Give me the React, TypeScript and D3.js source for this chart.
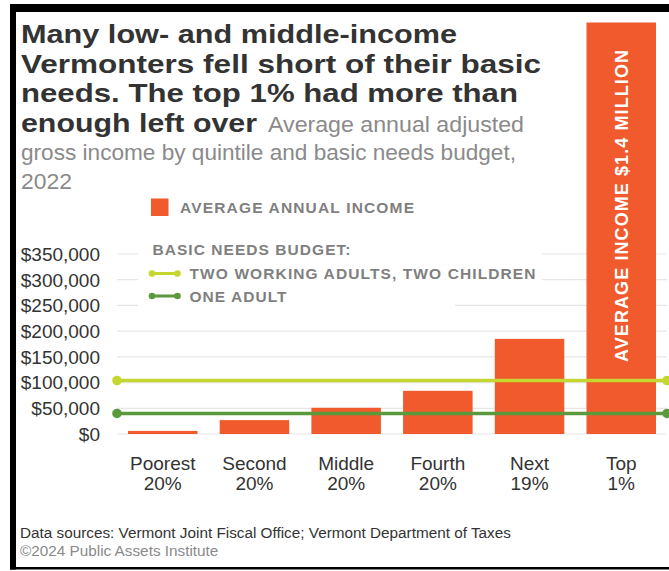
import React from "react";
import * as d3 from "d3";

// ---- data ----
const categoryTop = ["Poorest", "Second", "Middle", "Fourth", "Next", "Top"];
const categoryBottom = ["20%", "20%", "20%", "20%", "19%", "1%"];
const incomes = [6000, 27000, 51000, 84000, 185000, 1400000];
const budgetLabels = ["TWO WORKING ADULTS, TWO CHILDREN", "ONE ADULT"];
const budgetValues = [104000, 40000];
const budgetColors = ["#c5d631", "#5b9a3c"];
const yTicks = [0, 50000, 100000, 150000, 200000, 250000, 300000, 350000];

const titleLines = [
  "Many low- and middle-income",
  "Vermonters fell short of their basic",
  "needs. The top 1% had more than",
];
const titleLast = "enough left over";
const subtitleFirst = "Average annual adjusted";
const subtitleRest = ["gross income by quintile and basic needs budget,", "2022"];
const topBarNote = "AVERAGE INCOME $1.4 MILLION";
const sources = "Data sources: Vermont Joint Fiscal Office; Vermont Department of Taxes";
const copyright = "\u00A92024 Public Assets Institute";

const W = 669;
const H = 571;
const FONT = "'Liberation Sans', Arial, Helvetica, sans-serif";
const ORANGE = "#f05a2c";

export default function App() {
  const plotLeft = 117;
  const plotRight = 667;
  const plotTop = 22.5;
  const keys = categoryTop.map((c, i) => c + " " + categoryBottom[i]);

  const x = d3.scaleBand<string>().domain(keys).range([plotLeft, plotRight]).paddingInner(0.242).paddingOuter(0.12);
  const y = d3.scaleLinear().domain([0, 350000]).range([434, 254]);
  const fmt = d3.format("$,");
  const bw = x.bandwidth();
  const topKey = keys[keys.length - 1];

  return (
    <svg width={W} height={H} style={{ position: "absolute", left: 0, top: 0, background: "#fff" }} fontFamily={FONT}>
      <rect x={0} y={0} width={W} height={H} fill="#fff" />
      {/* frame */}
      <rect x={10} y={4} width={W - 10} height={8} fill="#000" />
      <rect x={10} y={4} width={6} height={565.5} fill="#000" />
      <rect x={10} y={567} width={W - 10} height={2.5} fill="#000" />

      {/* title */}
      {titleLines.map((t, i) => (
        <text key={i} x={21} y={43 + i * 29.5} fontSize={26} fontWeight="bold" fill="#333"
          textLength={[436, 520, 497][i]} lengthAdjust="spacingAndGlyphs">{t}</text>
      ))}
      <text x={21} y={131.5} fontSize={26} fontWeight="bold" fill="#333" textLength={236} lengthAdjust="spacingAndGlyphs">{titleLast}</text>
      <text x={268} y={131.5} fontSize={22} fill="#8a8a8a" textLength={256} lengthAdjust="spacingAndGlyphs">{subtitleFirst}</text>
      {subtitleRest.map((t, i) => (
        <text key={i} x={21} y={160 + i * 28.5} fontSize={22} fill="#8a8a8a"
          textLength={[495, 51][i]} lengthAdjust="spacingAndGlyphs">{t}</text>
      ))}

      {/* gridlines */}
      {yTicks.map((t) => (
        <line key={t} x1={plotLeft} x2={plotRight} y1={y(t)} y2={y(t)} stroke="#e6e6e6" strokeWidth={1.2} />
      ))}
      {yTicks.map((t) => (
        <text key={"l" + t} x={100} y={y(t)} dy="0.36em" textAnchor="end" fontSize={19} fill="#333">{fmt(t)}</text>
      ))}

      {/* bars */}
      {keys.map((k, i) => {
        const top = Math.max(plotTop, y(incomes[i]));
        return <rect key={k} x={x(k)} y={top} width={bw} height={y(0) - top} fill={ORANGE} />;
      })}
      <text
        transform={`translate(${(x(topKey) as number) + bw / 2},206) rotate(-90)`}
        textAnchor="middle" dy="0.36em" fontSize={18} fontWeight="bold" fill="#fff" textLength={312}
      >{topBarNote}</text>

      {/* legend background */}
      <rect x={138} y={240} width={404} height={49} fill="#fff" />
      <rect x={138} y={289} width={317} height={20} fill="#fff" />

      {/* legend */}
      <rect x={151} y={198.5} width={17.5} height={17.5} fill={ORANGE} />
      <text x={180} y={212.5} fontSize={15.5} fontWeight="bold" fill="#7f7f7f" textLength={234}>AVERAGE ANNUAL INCOME</text>
      <text x={152.5} y={254.5} fontSize={15.5} fontWeight="bold" fill="#7f7f7f" textLength={198}>BASIC NEEDS BUDGET:</text>
      {budgetLabels.map((l, i) => {
        const cy = 273.5 + i * 22.5;
        return (
          <g key={l}>
            <line x1={152} x2={177.5} y1={cy} y2={cy} stroke={budgetColors[i]} strokeWidth={3} />
            <circle cx={152} cy={cy} r={3.3} fill={budgetColors[i]} />
            <circle cx={177.5} cy={cy} r={3.3} fill={budgetColors[i]} />
            <text x={189.5} y={cy + 5.8} fontSize={15.5} fontWeight="bold" fill="#7f7f7f"
              textLength={[346, 97][i]}>{l}</text>
          </g>
        );
      })}

      {/* budget lines */}
      {budgetValues.map((v, i) => (
        <g key={i}>
          <line x1={plotLeft} x2={plotRight} y1={y(v)} y2={y(v)} stroke={budgetColors[i]} strokeWidth={3.5} />
          <circle cx={plotLeft} cy={y(v)} r={4.8} fill={budgetColors[i]} />
          <circle cx={plotRight} cy={y(v)} r={4.8} fill={budgetColors[i]} />
        </g>
      ))}

      {/* x labels */}
      {keys.map((k, i) => (
        <text key={k} x={(x(k) as number) + bw / 2} textAnchor="middle" fontSize={19} fill="#333">
          <tspan x={(x(k) as number) + bw / 2} y={470}>{categoryTop[i]}</tspan>
          <tspan x={(x(k) as number) + bw / 2} y={490}>{categoryBottom[i]}</tspan>
        </text>
      ))}

      {/* footer */}
      <text x={20} y={537.5} fontSize={15.3} fill="#333">{sources}</text>
      <text x={20} y={556} fontSize={15.3} fill="#8a8a8a">{copyright}</text>
    </svg>
  );
}
